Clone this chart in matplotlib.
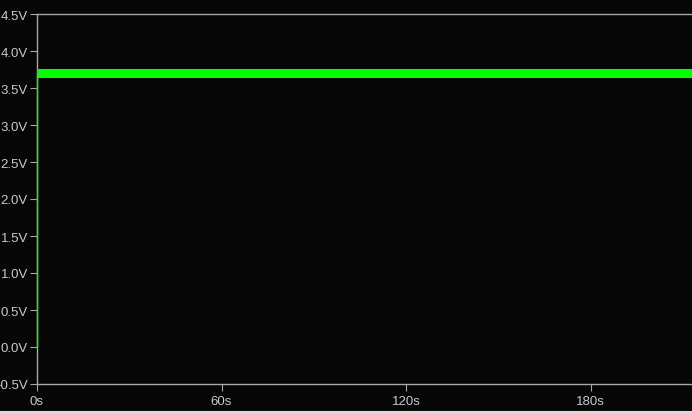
import matplotlib
matplotlib.use("Agg")
import matplotlib.pyplot as plt
from matplotlib.lines import Line2D

# ---- data ----
step_time = [0.0, 0.0]          # s
step_volt = [0.0, 3.70]         # V
trace_time = [0.0, 213.0]       # s
trace_low = [3.635, 3.635]      # V (ripple lower envelope)
trace_high = [3.757, 3.757]     # V (ripple upper envelope)

y_ticks = [-0.5, 0.0, 0.5, 1.0, 1.5, 2.0, 2.5, 3.0, 3.5, 4.0, 4.5]
x_ticks = [0, 60, 120, 180]

BG = "#060606"
AX = "#a8a8a8"
TXT = "#c4cad2"
GREEN = "#00ff00"

fig = plt.figure(figsize=(6.92, 4.14), dpi=100, facecolor=BG)
ax = fig.add_axes([37 / 692, 1 - 385 / 414, 1 - 37 / 692, (385 - 15) / 414])
ax.set_facecolor(BG)

ax.fill_between(trace_time, trace_low, trace_high, color=GREEN, linewidth=0, zorder=3)
ax.plot(step_time, step_volt, color=GREEN, linewidth=1.0, zorder=4, clip_on=False)

ax.set_xlim(0, 213)
ax.set_ylim(-0.5, 4.5)
ax.set_yticks(y_ticks)
ax.set_yticklabels([f"{v:.1f}V" for v in y_ticks])
ax.set_xticks(x_ticks)
ax.set_xticklabels([f"{v}s" for v in x_ticks])

for s in ["left", "top", "bottom"]:
    ax.spines[s].set_color(AX)
    ax.spines[s].set_linewidth(1.0)
ax.spines["right"].set_visible(False)

ax.tick_params(axis="both", colors=AX, length=5, width=0.8, direction="out",
               labelcolor=TXT, labelsize=9.5)
ax.tick_params(axis="y", pad=1.5)
ax.tick_params(axis="x", pad=3)
for lab in ax.get_xticklabels() + ax.get_yticklabels():
    lab.set_fontfamily("Liberation Sans")

# window border at the bottom
fig.add_artist(Line2D([0, 1], [1.5 / 414, 1.5 / 414], transform=fig.transFigure,
                      color="#d8dce0", linewidth=1.5))

fig.savefig("out.png", dpi=100, facecolor=BG)
